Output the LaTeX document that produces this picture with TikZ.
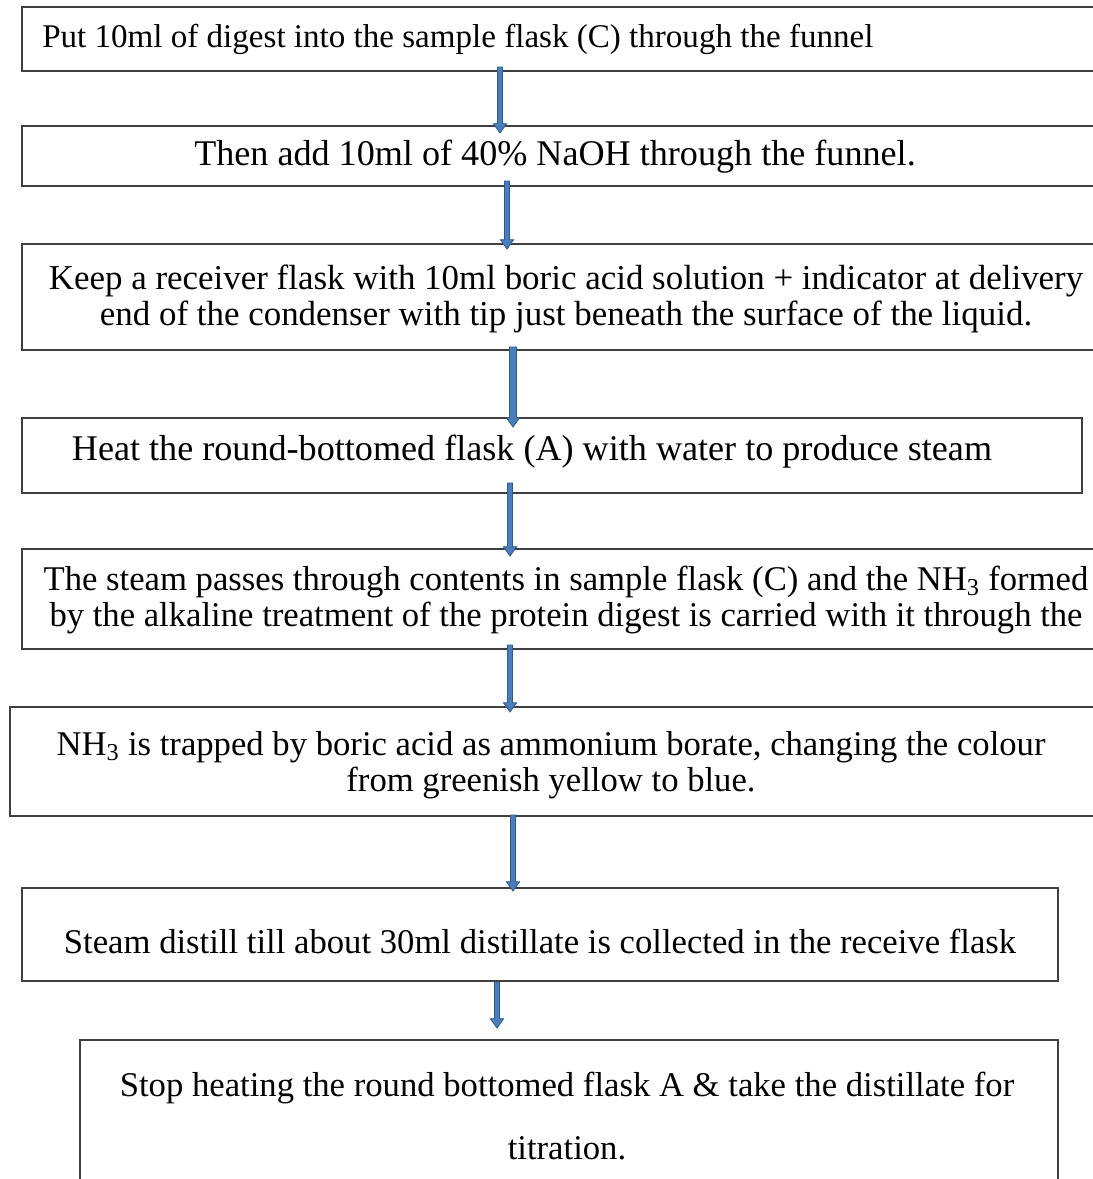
\documentclass[tikz,border=0pt]{standalone}
\usepackage{fontspec}
\setmainfont{Liberation Serif}
\usetikzlibrary{calc,fit}
\definecolor{arrfill}{HTML}{4A7EBB}
\definecolor{arrdraw}{HTML}{2F5A8F}
\definecolor{boxline}{HTML}{404040}
\newcommand{\flowarrow}[3]{%
  \path[flowarr] let \p1=(#1), \p2=(#2) in
    (\x1-#3,\y1) -- (\x1-#3,\y2+7pt) -- (\x1-5pt,\y2+7pt) -- (\x2,\y2)
    -- (\x1+5pt,\y2+7pt) -- (\x1+#3,\y2+7pt) -- (\x1+#3,\y1) -- cycle;}
\begin{document}
\begin{tikzpicture}[x=0.75pt,y=-0.75pt,
  stepbox/.style={draw=boxline, line width=1.2pt, inner sep=0pt, outer sep=0pt},
  steptext/.style={inner sep=0pt, font=\fontsize{26}{27}\selectfont, align=center},
  flowarr/.style={draw=arrdraw, fill=arrfill, line width=0.6pt}]
\clip (0,0) rectangle (1093,1179);
\fill[white] (0,0) rectangle (1093,1179);
% boxes
\node[stepbox, fit={(22,7) (1110,71)}] (b1) {};
\node[stepbox, fit={(22,126) (1110,186)}] (b2) {};
\node[stepbox, fit={(22,244) (1110,350)}] (b3) {};
\node[stepbox, fit={(22,418) (1082,493)}] (b4) {};
\node[stepbox, fit={(22,549) (1110,649)}] (b5) {};
\node[stepbox, fit={(10,707) (1110,816)}] (b6) {};
\node[stepbox, fit={(22,888) (1058,981)}] (b7) {};
\node[stepbox, fit={(80,1040) (1058,1200)}] (b8) {};
% texts
\node[steptext, font=\fontsize{24.8}{27}\selectfont, anchor=west] (t1) at (42,39) {Put 10ml of digest into the sample flask (C) through the funnel};
\node[steptext, font=\fontsize{27.1}{27}\selectfont] (t2) at (555,157) {Then add 10ml of 40\% NaOH through the funnel.};
\node[steptext, font=\fontsize{26.2}{27}\selectfont] (t3) at (566,299) {Keep a receiver flask with 10ml boric acid solution + indicator at delivery\\end of the condenser with tip just beneath the surface of the liquid.};
\node[steptext, font=\fontsize{27.1}{27}\selectfont] (t4) at (532,452) {Heat the round-bottomed flask (A) with water to produce steam};
\node[steptext] (t5) at (566,600) {The steam passes through contents in sample flask (C) and the NH\textsubscript{3} formed\\by the alkaline treatment of the protein digest is carried with it through the};
\node[steptext] (t6) at (551,765) {NH\textsubscript{3} is trapped by boric acid as ammonium borate, changing the colour\\from greenish yellow to blue.};
\node[steptext] (t7) at (540,941) {Steam distill till about 30ml distillate is collected in the receive flask};
\node[steptext, font=\fontsize{26}{47}\selectfont] (t8) at (567,1116) {Stop heating the round bottomed flask A \& take the distillate for\\titration.};
% arrows
\coordinate (a1s) at (500,67);   \coordinate (a1e) at (500,133);
\coordinate (a2s) at (507,181);  \coordinate (a2e) at (507,249);
\coordinate (a3s) at (513,347);  \coordinate (a3e) at (513,427);
\coordinate (a4s) at (510,483);  \coordinate (a4e) at (510,556);
\coordinate (a5s) at (510,645);  \coordinate (a5e) at (510,712);
\coordinate (a6s) at (513,815);  \coordinate (a6e) at (513,891);
\coordinate (a7s) at (497,982);  \coordinate (a7e) at (497,1028);
\flowarrow{a1s}{a1e}{1.9pt}
\flowarrow{a2s}{a2e}{1.9pt}
\flowarrow{a3s}{a3e}{2.6pt}
\flowarrow{a4s}{a4e}{1.9pt}
\flowarrow{a5s}{a5e}{1.9pt}
\flowarrow{a6s}{a6e}{1.9pt}
\flowarrow{a7s}{a7e}{1.9pt}
\end{tikzpicture}
\end{document}
